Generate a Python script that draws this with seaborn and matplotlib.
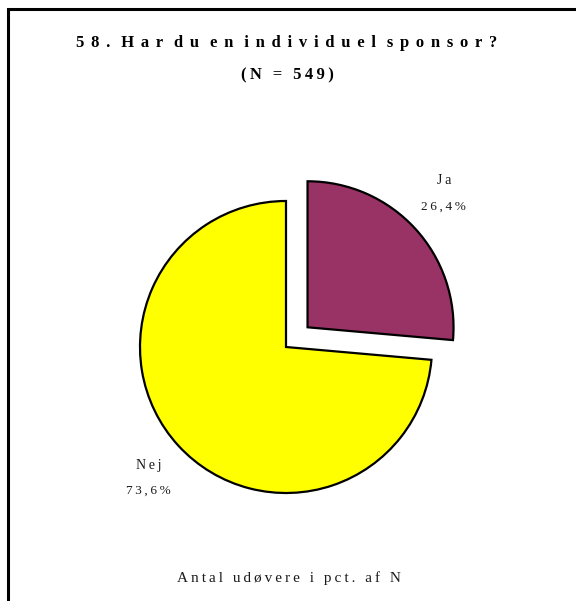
import matplotlib
matplotlib.use("Agg")
import matplotlib.pyplot as plt
import matplotlib.patches as mpatches
import seaborn as sns

# ---------------- DATA ----------------
labels = ["Ja", "Nej"]
pct = [26.4, 73.6]
colors = ["#993366", "#FFFF00"]
title = "58. Har du en individuel sponsor?"
subtitle = "(N = 549)"
footer = "Antal udøvere i pct. af N"

# ---------------- STYLE ----------------
sns.set_theme(style="white")
plt.rcParams["font.family"] = ["Liberation Serif", "DejaVu Serif"]

THIN = "\u2009"


def spaced(s, gap=THIN, word_gap=""):
    # wide letter spacing like the original
    words = [gap.join(w) for w in s.split(" ")]
    return (word_gap + " " + word_gap).join(words)


W, H = 576, 601
fig = plt.figure(figsize=(W / 100, H / 100), dpi=100)

# background axes in pixel units (frame + texts)
bg = fig.add_axes([0, 0, 1, 1])
bg.set_xlim(0, W)
bg.set_ylim(0, H)
bg.axis("off")
bg.add_patch(mpatches.Rectangle((8, -20), W + 40, H - 9 + 20, fill=False,
                                edgecolor="black", linewidth=2.2))

# pie axes: radius 1 -> 146 px, centred at (286, 347) from top
R, CX, CY = 146, 286, H - 347
half = 1.5 * R
pie_ax = fig.add_axes([(CX - half) / W, (CY - half) / H, 2 * half / W, 2 * half / H])
pie_ax.pie(pct, colors=colors, explode=[0.2, 0.0], startangle=90,
           counterclock=False, radius=1,
           wedgeprops=dict(edgecolor="black", linewidth=1.6))
pie_ax.set_xlim(-1.5, 1.5)
pie_ax.set_ylim(-1.5, 1.5)
pie_ax.axis("off")

# slice labels
label_pos = [(444, H - 181), (149, H - 465)]
for lab, p, (x, y) in zip(labels, pct, label_pos):
    bg.text(x, y, spaced(lab), ha="center", va="center",
            fontsize=10, color="#1a1a1a")
    bg.text(x - 1, y - 26, spaced(f"{p:.1f}%".replace(".", ",")),
            ha="center", va="center", fontsize=9.5, color="#1a1a1a")

bg.text(287, H - 43, spaced(title, THIN * 2, THIN), ha="center", va="center",
        fontsize=12, fontweight="bold", color="black")
bg.text(287, H - 75, spaced(subtitle, THIN, THIN), ha="center", va="center",
        fontsize=12, fontweight="bold", color="black")
bg.text(289, H - 578, spaced(footer, THIN, THIN), ha="center", va="center",
        fontsize=11, color="#1a1a1a")

fig.savefig("out.png", dpi=100)
